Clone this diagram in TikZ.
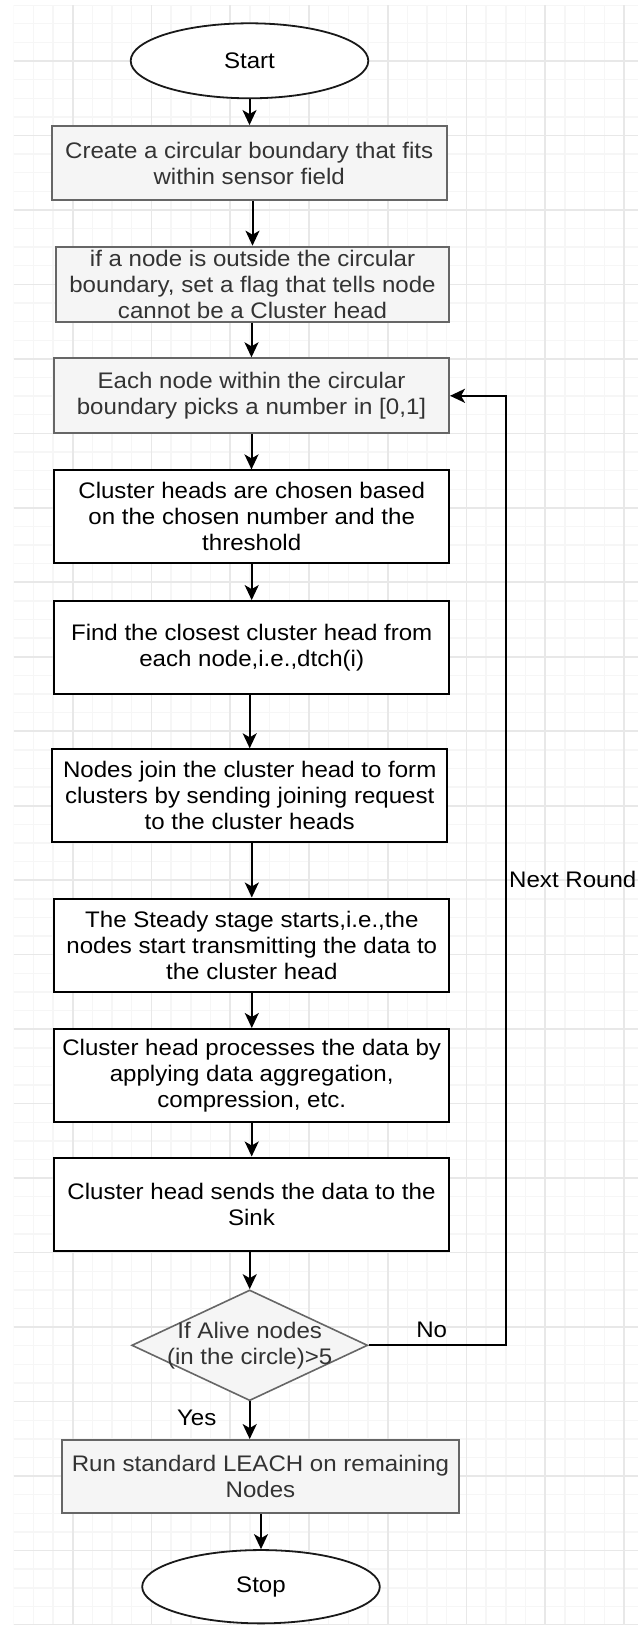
\documentclass[tikz,border=0pt]{standalone}
\usepackage{fontspec}
\setmainfont{Liberation Sans}[FakeStretch=1.07]
\usetikzlibrary{arrows.meta,shapes.geometric}

\definecolor{gridmajor}{HTML}{E8E8E8}
\definecolor{gridminor}{HTML}{F6F6F6}
\definecolor{boxfill}{HTML}{F5F5F5}
\definecolor{boxline}{HTML}{666666}
\definecolor{boxtext}{HTML}{333333}

\tikzset{
  txt/.style={font=\fontsize{22.5}{26}\selectfont, align=center},
  greybox/.style={txt, rectangle, draw=boxline, fill=boxfill, text=boxtext,
    line width=2pt, inner sep=0pt, minimum width=395pt, minimum height=75pt},
  whitebox/.style={txt, rectangle, draw=black, fill=white,
    line width=2pt, inner sep=0pt, minimum width=395pt, minimum height=93pt},
  terminal/.style={txt, ellipse, draw=black!90, fill=white, line width=1.8pt,
    inner sep=0pt, minimum width=237.6pt, minimum height=75pt},
  decision/.style={diamond, draw=boxline, fill=boxfill, line width=1.6pt,
    inner sep=0pt, minimum width=236pt, minimum height=110.7pt},
  flow/.style={draw=black, line width=2pt,
    -{Stealth[length=15pt,width=14pt,inset=4pt]}},
  lbl/.style={txt, inner sep=0pt},
  minorline/.style={draw=gridminor, line width=1.4pt},
  majorline/.style={draw=gridmajor, line width=1.6pt},
}

\begin{document}
\begin{tikzpicture}[x=1pt, y=-1pt]
  \useasboundingbox (0,0) rectangle (638,1625);
  \fill[white] (0,0) rectangle (638,1625);

  % background grid
  \begin{scope}
    \clip (13.6,5) rectangle (638,1625);
    \foreach \i in {0,...,32} \draw[minorline] ({13.6+\i*19.69},5) -- ({13.6+\i*19.69},1625);
    \foreach \j in {0,...,87} \draw[minorline] (13.6,{5.1+\j*18.62}) -- (638,{5.1+\j*18.62});
    \foreach \i in {0,...,7} \draw[majorline] ({72.7+\i*78.76},5) -- ({72.7+\i*78.76},1625);
    \foreach \j in {0,...,21} \draw[majorline] (13.6,{61+\j*74.47}) -- (638,{61+\j*74.47});
  \end{scope}

  % flowchart nodes
  \node[terminal] (start) at (249.5,60.8) {Start};
  \node[greybox, minimum width=395pt, minimum height=74.3pt] (b1) at (249.2,163.2)
    {Create a circular boundary that fits\\within sensor field};
  \node[greybox, minimum width=393pt] (b2) at (252.5,284.2)
    {if a node is outside the circular\\boundary, set a flag that tells node\\cannot be a Cluster head};
  \node[greybox] (b3) at (251.5,395.8)
    {Each node within the circular\\boundary picks a number in [0,1]};
  \node[whitebox] (b4) at (251.7,516.9)
    {Cluster heads are chosen based\\on the chosen number and the\\threshold};
  \node[whitebox] (b5) at (251.7,647.6)
    {Find the closest cluster head from\\each node,i.e.,dtch(i)};
  \node[whitebox] (b6) at (249.7,795.8)
    {Nodes join the cluster head to form\\clusters by sending joining request\\to the cluster heads};
  \node[whitebox] (b7) at (251.8,945)
    {The Steady stage starts,i.e.,the\\nodes start transmitting the data to\\the cluster head};
  \node[whitebox] (b8) at (251.7,1075.5)
    {Cluster head processes the data by\\applying data aggregation,\\compression, etc.};
  \node[whitebox] (b9) at (251.5,1204)
    {Cluster head sends the data to the\\Sink};
  \node[decision, label={[lbl, text=boxtext]center:{If Alive nodes\\(in the circle)>5}}] (dec) at (249.7,1345.3) {};
  \node[greybox, minimum width=397pt, minimum height=73.3pt] (b10) at (260.5,1476.7)
    {Run standard LEACH on remaining\\Nodes};
  \node[terminal, minimum height=73.3pt] (stop) at (261,1586.7) {Stop};

  % connector labels
  \node[lbl] (no) at (431.7,1330) {No};
  \node[lbl] (yes) at (196.7,1418.3) {Yes};
  \node[lbl, anchor=west] (nextround) at (509,879) {Next Round};
  \coordinate (loop) at (506,395.8);

  % connectors
  \draw[flow] (start.south) -- (b1.north -| start.south);
  \draw[flow] (b1.south -| b2.north) -- (b2.north);
  \draw[flow] (b2.south -| b3.north) -- (b3.north);
  \draw[flow] (b3.south) -- (b4.north -| b3.south);
  \draw[flow] (b4.south) -- (b5.north -| b4.south);
  \draw[flow] (b5.south -| b6.north) -- (b6.north);
  \draw[flow] (b6.south -| b7.north) -- (b7.north);
  \draw[flow] (b7.south) -- (b8.north -| b7.south);
  \draw[flow] (b8.south) -- (b9.north -| b8.south);
  \draw[flow] (b9.south -| dec.north) -- (dec.north);
  \draw[flow] (dec.south) -- (b10.north -| dec.south);
  \draw[flow] (b10.south -| stop.north) -- (stop.north);
  \draw[flow] (dec.east) -| (loop) -- (b3.east);
\end{tikzpicture}
\end{document}
